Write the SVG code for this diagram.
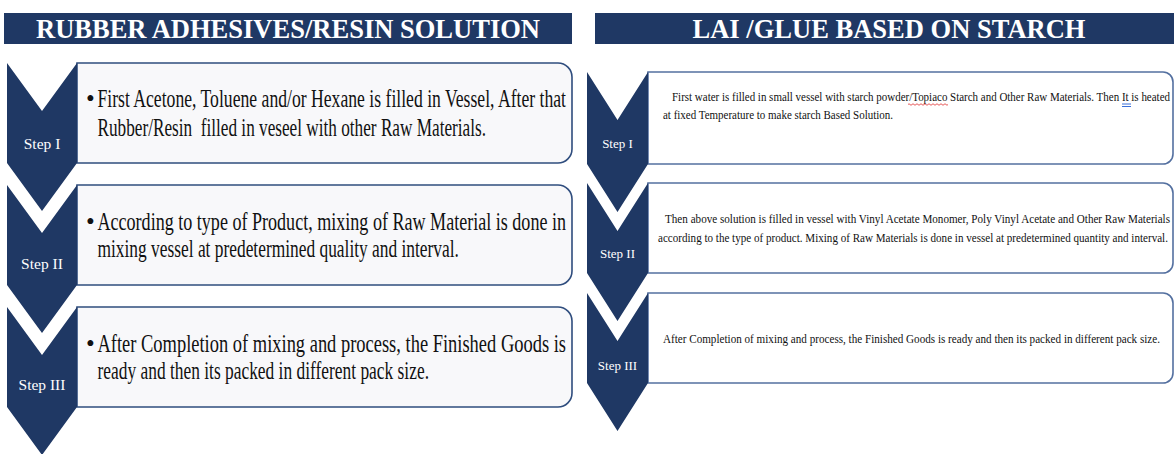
<svg xmlns="http://www.w3.org/2000/svg" width="1174" height="454" viewBox="0 0 1174 454">
  <style>
    .hdr { fill: #1f3864; }
    .hdrtxt { font-family: "Liberation Serif", "Times New Roman", serif; font-weight: bold; font-size: 28px; fill: #ffffff; text-anchor: middle; }
    .chev { fill: #1f3864; }
    .steptxt { font-family: "Liberation Serif", "Times New Roman", serif; fill: #ffffff; text-anchor: middle; }
    .lbox { fill: #f8f8fa; stroke: #2f4d7e; stroke-width: 1.6; }
    .rbox { fill: #ffffff; stroke: #5470a0; stroke-width: 1.6; }
    .ltxt { font-family: "Liberation Serif", "Times New Roman", serif; font-size: 25px; fill: #111111; }
    .rtxt { font-family: "Liberation Serif", "Times New Roman", serif; font-size: 12px; fill: #111111; }
  </style>
  <rect width="1174" height="454" fill="#ffffff"/>

  <!-- Left header -->
  <g id="header-left">
    <rect class="hdr" x="4" y="13" width="568" height="31"/>
    <text class="hdrtxt" x="288" y="38" textLength="504" lengthAdjust="spacingAndGlyphs">RUBBER ADHESIVES/RESIN SOLUTION</text>
  </g>

  <!-- Right header -->
  <g id="header-right">
    <rect class="hdr" x="595" y="13" width="579" height="31"/>
    <text class="hdrtxt" x="889" y="38" textLength="393" lengthAdjust="spacingAndGlyphs">LAI /GLUE BASED ON STARCH</text>
  </g>

  <!-- Left panel steps -->
  <g id="left-step1">
    <path class="lbox" d="M77,63 H558 A14,14 0 0 1 572,77 V149 A14,14 0 0 1 558,163 H77 Z"/>
    <path class="chev" d="M7,63 L42,111 L77,63 L77,163 L42,211 L7,163 Z"/>
    <text class="steptxt" x="42" y="149" font-size="15.5">Step I</text>
    <text class="ltxt" x="86" y="107">•</text>
    <text class="ltxt" transform="translate(97.5 107) scale(0.72 1)" textLength="650.7" lengthAdjust="spacingAndGlyphs">First Acetone, Toluene and/or Hexane is filled in Vessel, After that</text>
    <text class="ltxt" transform="translate(97.5 136) scale(0.72 1)" textLength="539.6" lengthAdjust="spacingAndGlyphs" xml:space="preserve">Rubber/Resin  filled in veseel with other Raw Materials.</text>
  </g>

  <g id="left-step2">
    <path class="lbox" d="M77,185 H558 A14,14 0 0 1 572,199 V271 A14,14 0 0 1 558,285 H77 Z"/>
    <path class="chev" d="M7,185 L42,233 L77,185 L77,285 L42,333 L7,285 Z"/>
    <text class="steptxt" x="42" y="269" font-size="15.5">Step II</text>
    <text class="ltxt" x="86" y="230">•</text>
    <text class="ltxt" transform="translate(97.5 230) scale(0.72 1)" textLength="650.7" lengthAdjust="spacingAndGlyphs">According to type of Product, mixing of Raw Material is done in</text>
    <text class="ltxt" transform="translate(97.5 257) scale(0.72 1)" textLength="502" lengthAdjust="spacingAndGlyphs">mixing vessel at predetermined quality and interval.</text>
  </g>

  <g id="left-step3">
    <path class="lbox" d="M77,307 H558 A14,14 0 0 1 572,321 V393 A14,14 0 0 1 558,407 H77 Z"/>
    <path class="chev" d="M7,307 L42,355 L77,307 L77,407 L42,455 L7,407 Z"/>
    <text class="steptxt" x="42" y="390" font-size="15.5">Step III</text>
    <text class="ltxt" x="86" y="352">•</text>
    <text class="ltxt" transform="translate(97.5 352) scale(0.72 1)" textLength="650.7" lengthAdjust="spacingAndGlyphs">After Completion of mixing and process, the Finished Goods is</text>
    <text class="ltxt" transform="translate(97.5 379) scale(0.72 1)" textLength="460.4" lengthAdjust="spacingAndGlyphs">ready and then its packed in different pack size.</text>
  </g>

  <!-- Right panel steps -->
  <g id="right-step1">
    <path class="rbox" d="M648,72 H1163 A10,10 0 0 1 1173,82 V154 A10,10 0 0 1 1163,164 H648 Z"/>
    <path class="chev" d="M587,72 L617.5,120 L648,72 L648,164 L617.5,212 L587,164 Z"/>
    <text class="steptxt" x="617.5" y="148" font-size="13">Step I</text>
    <text class="rtxt" transform="translate(672 101) scale(0.88 1)" textLength="565.9" lengthAdjust="spacingAndGlyphs">First water is filled in small vessel with starch powder/Topiaco Starch and Other Raw Materials. Then It is heated</text>
    <text class="rtxt" transform="translate(663 119) scale(0.88 1)" textLength="261.4" lengthAdjust="spacingAndGlyphs">at fixed Temperature to make starch Based Solution.</text>
    <path d="M908,104.5 q1,-1.5 2,0 t2,0 t2,0 t2,0 t2,0 t2,0 t2,0 t2,0 t2,0 t2,0 t2,0 t2,0 t2,0 t2,0 t2,0 t2,0 t2,0 t2,0 t2,0 t2,0" fill="none" stroke="#e03030" stroke-width="0.8"/>
    <path d="M1122,104 H1131 M1122,106.5 H1131" fill="none" stroke="#3a6fd8" stroke-width="1"/>
  </g>

  <g id="right-step2">
    <path class="rbox" d="M648,183 H1163 A10,10 0 0 1 1173,193 V263 A10,10 0 0 1 1163,273 H648 Z"/>
    <path class="chev" d="M587,183 L617.5,231 L648,183 L648,273 L617.5,321 L587,273 Z"/>
    <text class="steptxt" x="617.5" y="258" font-size="13">Step II</text>
    <text class="rtxt" transform="translate(665 223) scale(0.88 1)" textLength="573.9" lengthAdjust="spacingAndGlyphs">Then above solution is filled in vessel with Vinyl Acetate Monomer, Poly Vinyl Acetate and Other Raw Materials</text>
    <text class="rtxt" transform="translate(658 242) scale(0.88 1)" textLength="579.5" lengthAdjust="spacingAndGlyphs">according to the type of product. Mixing of Raw Materials is done in vessel at predetermined quantity and interval.</text>
  </g>

  <g id="right-step3">
    <path class="rbox" d="M648,293 H1163 A10,10 0 0 1 1173,303 V373 A10,10 0 0 1 1163,383 H648 Z"/>
    <path class="chev" d="M587,293 L617.5,341 L648,293 L648,383 L617.5,431 L587,383 Z"/>
    <text class="steptxt" x="617.5" y="370" font-size="13">Step III</text>
    <text class="rtxt" transform="translate(663 343) scale(0.88 1)" textLength="564.8" lengthAdjust="spacingAndGlyphs">After Completion of mixing and process, the Finished Goods is ready and then its packed in different pack size.</text>
  </g>

  <g id="connectors"></g>
</svg>
